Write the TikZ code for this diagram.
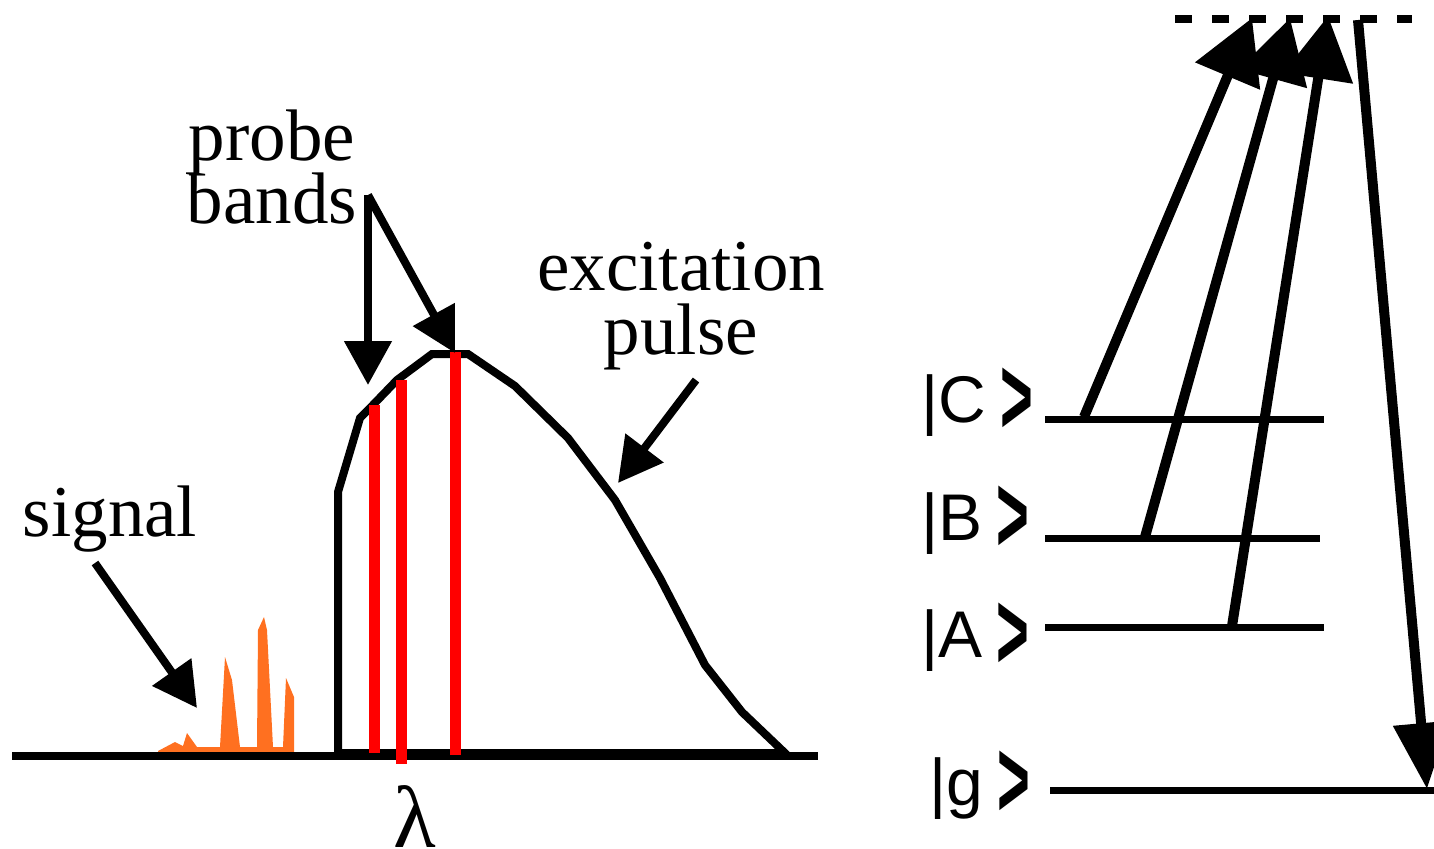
\documentclass[tikz,border=0pt]{standalone}
\usepackage{fontspec}
\usepackage{graphicx}
\setmainfont{Liberation Serif}
\newfontfamily\ketfont{Liberation Sans}
\usetikzlibrary{arrows.meta}
\definecolor{sigorange}{RGB}{255,112,32}
\definecolor{bandred}{RGB}{255,0,0}
\newcommand{\ketclose}{\hspace{7pt}\raisebox{-6.3pt}{\scalebox{0.85}[1.68]{\bfseries >}}}
\begin{document}
\begin{tikzpicture}[x=0.5pt,y=-0.5pt,
  lbl/.style={font=\fontsize{36.5}{40}\selectfont, inner sep=0pt, anchor=base},
  ket/.style={font=\ketfont\fontsize{33}{36}\selectfont, inner sep=0pt, anchor=base west},
  arrL/.style={line width=4pt, -{Triangle[length=22pt,width=23pt]}},
  arrR/.style={line width=5pt, -{Triangle[length=31.5pt,width=34pt]}},
  arrD/.style={line width=5pt, -{Triangle[length=33pt,width=27pt]}},
  level/.style={line width=3.5pt},
  band/.style={line width=5.5pt, draw=bandred},
  outline/.style={line width=4pt},
]
\useasboundingbox (0,0) rectangle (1434,848);

% ---------- left: spectrum ----------
% signal
\fill[sigorange] (158,751) -- (175,742) -- (183,746) -- (187,733) -- (197,747)
  -- (220,747) -- (225,657) -- (232,680) -- (240,747) -- (257,747) -- (258,630)
  -- (264,617) -- (267,630) -- (273,747) -- (283,747) -- (286,678) -- (294,697)
  -- (294,752) -- (158,752) -- cycle;

% excitation pulse
\draw[outline] (338,753) -- (338,492) -- (360,418) -- (370,408) -- (397,380)
  -- (432,354) -- (468,354) -- (515,386) -- (568,438) -- (615,500) -- (660,578)
  -- (705,665) -- (742,712) -- (785,753) -- cycle;

% baseline
\coordinate (bl) at (12,756);
\coordinate (br) at (818,756);
\draw[outline] (bl) -- (br);

% probe bands
\draw[band] (374,405) -- (374,753);
\draw[band] (401,380) -- (401,764);
\draw[band] (455,352) -- (455,755);

% labels
\node[lbl] (probe) at (272,160) {probe};
\node[lbl] (bands) at (272,223) {bands};
\node[lbl] (excit) at (681,290) {excitation};
\node[lbl] (pulse) at (681,354) {pulse};
\node[lbl] (signal) at (110,536) {signal};
\node[lbl, font=\fontsize{44}{46}\selectfont] (lambda) at (415,847) {λ};

% label arrows
\coordinate (pbj) at (368,195);
\coordinate (pbt1) at (368,385);
\coordinate (pbt2) at (455,353);
\draw[arrL] (pbj) -- (pbt1);
\draw[arrL] (pbj) -- (pbt2);
\coordinate (exs) at (696,380);
\coordinate (ext) at (618,483);
\draw[arrL] (exs) -- (ext);
\coordinate (sgs) at (95,563);
\coordinate (sgt) at (197,708);
\draw[arrL] (sgs) -- (sgt);

% ---------- right: level scheme ----------
\node[ket] (kC) at (921,422) {|C\ketclose};
\node[ket] (kB) at (921,540) {|B\ketclose};
\node[ket] (kA) at (921,657) {|A\ketclose};
\node[ket] (kg) at (929,805) {|g\ketclose};

\coordinate (Cl) at (1045,419); \coordinate (Cr) at (1324,419);
\coordinate (Bl) at (1045,538); \coordinate (Br) at (1320,538);
\coordinate (Al) at (1045,627); \coordinate (Ar) at (1324,627);
\coordinate (gl) at (1050,790); \coordinate (gr) at (1434,790);
\draw[level] (Cl) -- (Cr);
\draw[level] (Bl) -- (Br);
\draw[level] (Al) -- (Ar);
\draw[level] (gl) -- (gr);

% virtual level
\coordinate (vl) at (1175,19); \coordinate (vr) at (1412,19);
\draw[line width=4pt, dash pattern=on 8.5pt off 10pt] (vl) -- (vr);

% transitions
\coordinate (uC) at (1084,417); \coordinate (tC) at (1252,18);
\coordinate (uB) at (1145,537); \coordinate (tB) at (1290,18);
\coordinate (uA) at (1232,626); \coordinate (tA) at (1328,16);
\draw[arrR] (uC) -- (tC);
\draw[arrR] (uB) -- (tB);
\draw[arrR] (uA) -- (tA);
\coordinate (dS) at (1358,20); \coordinate (dT) at (1427,789);
\draw[arrD] (dS) -- (dT);
\end{tikzpicture}
\end{document}
